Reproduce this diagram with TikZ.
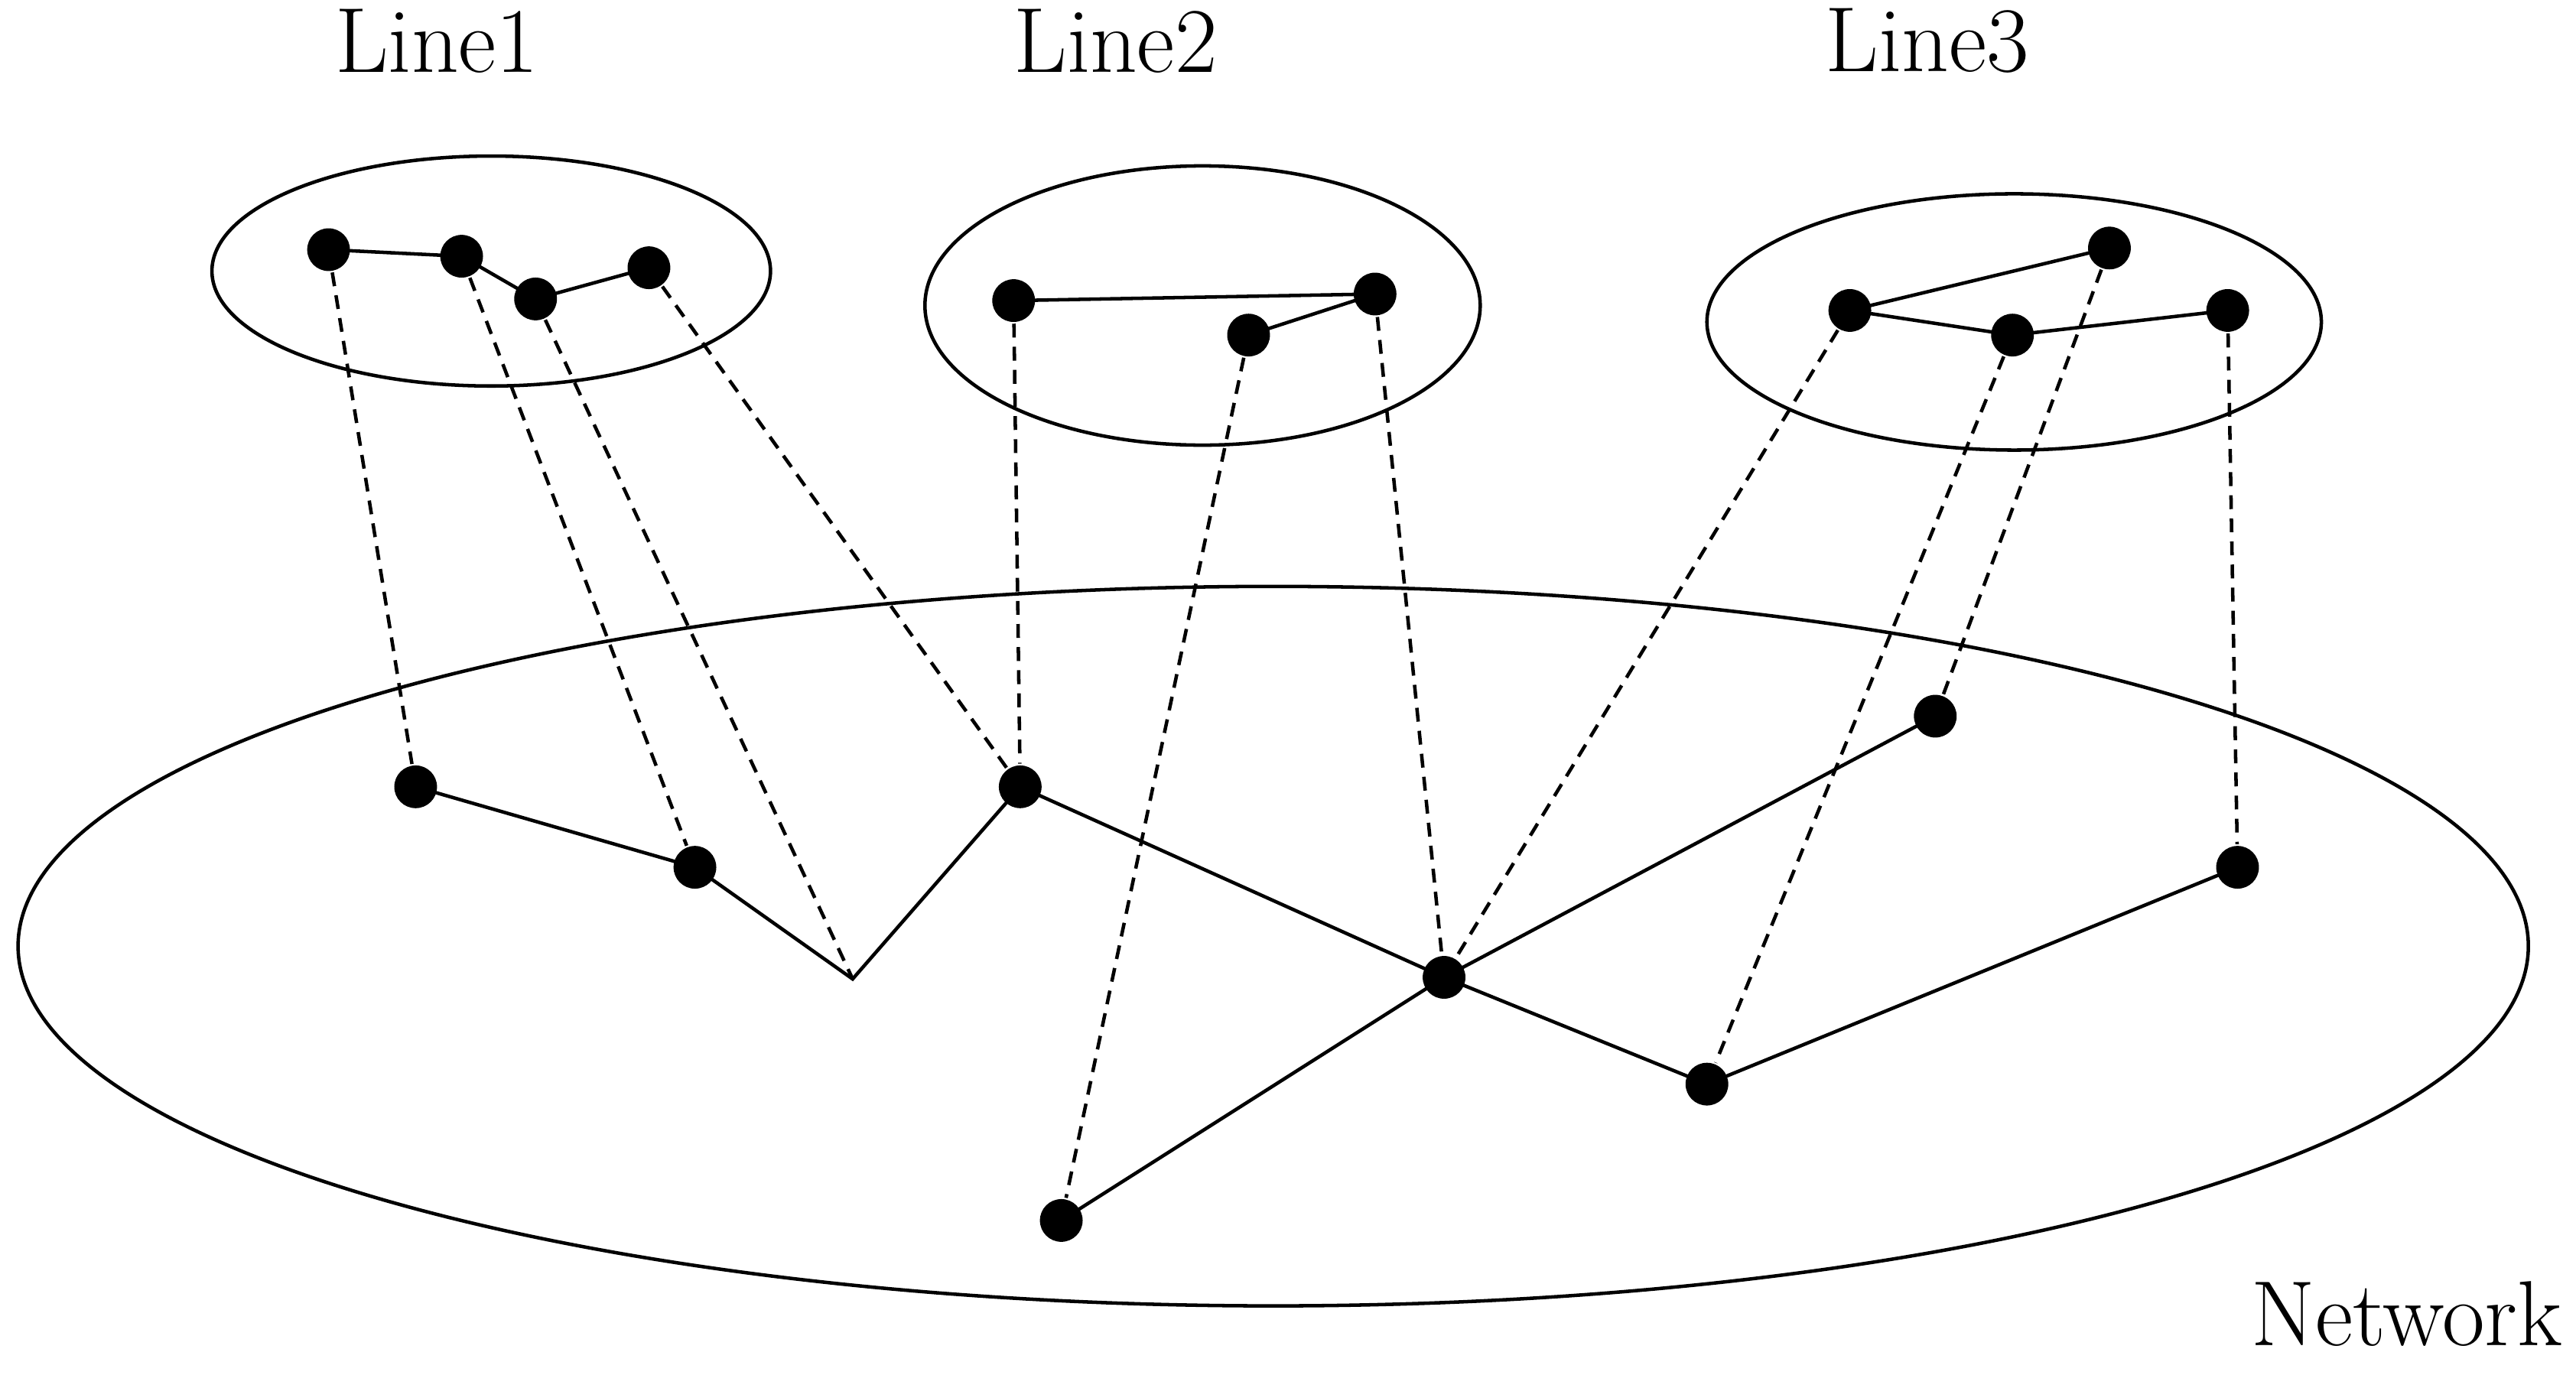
\documentclass[tikz,border=0pt]{standalone}
\begin{document}
\begin{tikzpicture}[x=0.01cm,y=-0.01cm,line width=0.6pt,
  dot/.style={circle,fill=black,inner sep=0pt,minimum size=0.26cm},
  ed/.style={line width=0.6pt},
  dl/.style={line width=0.6pt,dash pattern=on 2.4pt off 1.6pt},
  lab/.style={font=\fontsize{16}{19}\selectfont}]
\useasboundingbox (0,0) rectangle (1568,837);
\draw (299,165) ellipse [x radius=170,y radius=70];
\draw (732,186) ellipse [x radius=169,y radius=85];
\draw (1226,196) ellipse [x radius=187,y radius=78];
\draw (775,576) ellipse [x radius=764,y radius=219];
\node[lab] (l1) at (266,25) {Line1};
\node[lab] (l2) at (679,25) {Line2};
\node[lab] (l3) at (1173,25) {Line3};
\node[lab] (net) at (1465,800) {Network};
\node[dot] (a1) at (200,152) {};
\node[dot] (a2) at (281,156) {};
\node[dot] (a3) at (326,182) {};
\node[dot] (a4) at (395,163) {};
\node[dot] (b1) at (617,183) {};
\node[dot] (b2) at (837,179) {};
\node[dot] (b3) at (760,204) {};
\node[dot] (c1) at (1126,189) {};
\node[dot] (c2) at (1284,151) {};
\node[dot] (c3) at (1225,204) {};
\node[dot] (c4) at (1356,189) {};
\node[dot] (n1) at (253,479) {};
\node[dot] (n2) at (423,528) {};
\coordinate (p) at (519,596);
\node[dot] (n3) at (621,479) {};
\node[dot] (n4) at (879,595) {};
\node[dot] (n5) at (1178,436) {};
\node[dot] (n6) at (1362,528) {};
\node[dot] (n7) at (1039,660) {};
\node[dot] (n8) at (646,743) {};
\draw[ed] (a1.center)--(a2.center)--(a3.center)--(a4.center);
\draw[ed] (b1.center)--(b2.center)--(b3.center);
\draw[ed] (c2.center)--(c1.center)--(c3.center)--(c4.center);
\draw[ed] (n1.center)--(n2.center)--(p)--(n3.center)--(n4.center)--(n5.center);
\draw[ed] (n4.center)--(n7.center)--(n6.center);
\draw[ed] (n4.center)--(n8.center);
\draw[dl] (a1)--(n1);
\draw[dl] (a2)--(n2);
\draw[dl] (a3)--(p);
\draw[dl] (a4)--(n3);
\draw[dl] (b1)--(n3);
\draw[dl] (b3)--(n8);
\draw[dl] (b2)--(n4);
\draw[dl] (c1)--(n4);
\draw[dl] (c2)--(n5);
\draw[dl] (c3)--(n7);
\draw[dl] (c4)--(n6);
\end{tikzpicture}
\end{document}
